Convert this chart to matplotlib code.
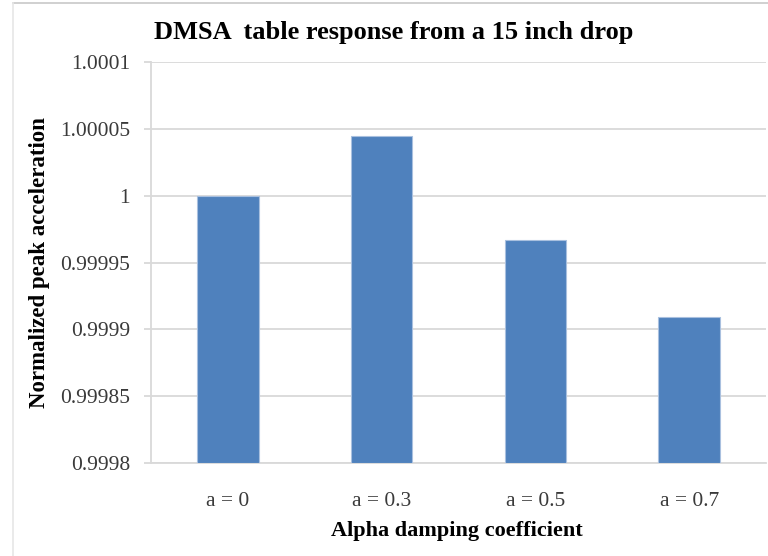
import matplotlib
matplotlib.use("Agg")
import matplotlib.pyplot as plt
from matplotlib.lines import Line2D
from matplotlib.ticker import FixedLocator

categories = ["a = 0", "a = 0.3", "a = 0.5", "a = 0.7"]
peak_accel = [1.0, 1.0000445, 0.9999665, 0.9999092]
y_ticks = [0.9998, 0.99985, 0.9999, 0.99995, 1.0, 1.00005, 1.0001]
y_tick_labels = ["0.9998", "0.99985", "0.9999", "0.99995", "1", "1.00005", "1.0001"]

plt.rcParams["font.family"] = ["Liberation Serif", "DejaVu Serif"]

W, H = 768, 556
fig = plt.figure(figsize=(W / 100, H / 100), dpi=100)
ax = fig.add_axes([151 / W, 1 - 463 / H, (766 - 151) / W, (463 - 62) / H])

grid_c = "#d9d9d9"
x = range(len(categories))
ax.bar(x, [v - y_ticks[0] for v in peak_accel], bottom=y_ticks[0], width=0.4,
       color="#4f81bd", edgecolor="#a9c0df", linewidth=0.8, zorder=3)

ax.set_ylim(y_ticks[0], y_ticks[-1])
ax.set_xlim(-0.5, len(categories) - 0.5)
ax.yaxis.set_major_locator(FixedLocator(y_ticks))
ax.set_yticklabels(y_tick_labels)
ax.set_xticks(list(x))
ax.set_xticklabels(categories)
ax.grid(axis="y", color=grid_c, linewidth=1.3, zorder=0)
ax.set_axisbelow(True)

for s in ["top", "right"]:
    ax.spines[s].set_visible(False)
for s in ["left", "bottom"]:
    ax.spines[s].set_color(grid_c)
    ax.spines[s].set_linewidth(1.3)

ax.tick_params(axis="y", length=5, width=1.3, color=grid_c, labelsize=15.5,
               labelcolor="#3a3a3a", pad=10)
ax.tick_params(axis="x", length=0, labelsize=15.5, labelcolor="#3a3a3a", pad=21)

ax.set_ylabel("Normalized peak acceleration", fontsize=16.5, fontweight="bold")
ax.yaxis.set_label_coords((40 - 151) / (766 - 151), 0.5)
ax.set_xlabel("Alpha damping coefficient", fontsize=16, fontweight="bold")
ax.xaxis.set_label_coords((457 - 151) / (766 - 151), -(531 - 463) / (463 - 62))
ax.xaxis.label.set_va("center")
ax.yaxis.label.set_va("center")
fig.text(394 / W, 1 - 32 / H, "DMSA  table response from a 15 inch drop",
         fontsize=19, fontweight="bold", ha="center", va="center")

# chart frame edges
fig.add_artist(Line2D([13 / W, 1], [1 - 2.5 / H, 1 - 2.5 / H], color="#c8c8c8", linewidth=1.2))
fig.add_artist(Line2D([13 / W, 13 / W], [0, 1 - 2.5 / H], color="#e6e6e6", linewidth=1.2))

fig.savefig("out.png", dpi=100)
